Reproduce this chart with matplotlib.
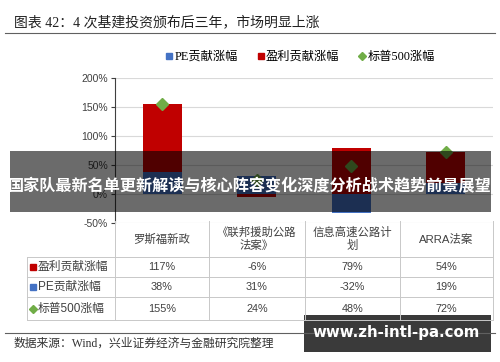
import matplotlib.pyplot as plt
from matplotlib.lines import Line2D
from matplotlib.patches import Rectangle

plt.rcParams['font.family'] = ['Liberation Sans', 'Noto Sans CJK SC']

# 数据
categories = ['罗斯福新政', '《联邦援助公路\n法案》', '信息高速公路计\n划', 'ARRA法案']
earn = [117, -6, 79, 54]     # 盈利贡献涨幅
pe = [38, 31, -32, 19]       # PE贡献涨幅
spx = [155, 24, 48, 72]      # 标普500涨幅
yticks = [-50, 0, 50, 100, 150, 200]

blue = '#4472C4'
red = '#C00000'
green = '#70AD47'
serif = ['Liberation Serif', 'Noto Sans CJK SC']

W, H = 500, 362
fig = plt.figure(figsize=(5, 3.62), dpi=100)

def fx(x):
    return x / W

def fy(y):
    return 1 - y / H

# 主图
ax = fig.add_axes([fx(115), fy(223), fx(493) - fx(115), fy(78) - fy(223)])
x = range(len(categories))
pos_base = [0] * 4
neg_base = [0] * 4
for vals, c in [(pe, blue), (earn, red)]:
    bottoms = []
    for i, v in enumerate(vals):
        if v >= 0:
            bottoms.append(pos_base[i])
            pos_base[i] += v
        else:
            bottoms.append(neg_base[i])
            neg_base[i] += v
    ax.bar(x, vals, 0.41, bottom=bottoms, color=c, zorder=2)
ax.plot(x, spx, linestyle='none', marker='D', markersize=6, color=green, zorder=3)
ax.set_xlim(-0.5, 3.5)
ax.set_ylim(-50, 200)
ax.set_yticks(yticks)
ax.set_yticklabels([f'{t}%' for t in yticks], fontsize=7.5, color='#404040')
ax.set_xticks([])
ax.grid(axis='y', color='#d9d9d9', linewidth=0.8, zorder=0)
for s in ['top', 'right', 'bottom']:
    ax.spines[s].set_visible(False)
ax.spines['left'].set_color('#404040')
ax.tick_params(axis='y', length=3, color='#404040', pad=2)

# 图例
handles = [Line2D([], [], ls='none', marker='s', markersize=4, color=blue),
           Line2D([], [], ls='none', marker='s', markersize=4, color=red),
           Line2D([], [], ls='none', marker='D', markersize=4, color=green)]
fig.legend(handles, ['PE贡献涨幅', '盈利贡献涨幅', '标普500涨幅'], loc='center',
           bbox_to_anchor=(fx(300), fy(57)), ncol=3, frameon=False,
           prop={'family': serif, 'size': 8.8}, handletextpad=0.1,
           columnspacing=1.5, handlelength=0.7)

# 覆盖层（标题、表格、水印）
ov = fig.add_axes([0, 0, 1, 1])
ov.set_xlim(0, W)
ov.set_ylim(H, 0)
ov.axis('off')

ov.text(14, 22, '图表 42：4 次基建投资颁布后三年，市场明显上涨', fontsize=10,
        family=serif, va='center', color='#222222')
ov.plot([5, 495], [33, 33], color='#606060', lw=0.8)

# 表格
cols = [115, 209, 305, 400, 493]
rows = [257, 277, 297, 320]
gc = '#c8c8c8'
for xc in cols:
    ov.plot([xc, xc], [221, 320], color=gc, lw=0.7)
ov.plot([27, 27], [257, 320], color=gc, lw=0.7)
for yr in rows:
    ov.plot([27, 493], [yr, yr], color=gc, lw=0.7)
for i, cat in enumerate(categories):
    ov.text((cols[i] + cols[i + 1]) / 2, 239, cat, ha='center', va='center',
            fontsize=8.2, color='#404040', linespacing=1.25)
row_data = [('盈利贡献涨幅', red, 's', earn),
            ('PE贡献涨幅', blue, 's', pe),
            ('标普500涨幅', green, 'D', spx)]
for r, (lab, c, m, vals) in enumerate(row_data):
    yc = (rows[r] + rows[r + 1]) / 2
    ov.plot([33], [yc], marker=m, markersize=3.8, color=c, ls='none')
    ov.text(38, yc, lab, va='center', fontsize=8.5, color='#404040')
    for i, v in enumerate(vals):
        ov.text((cols[i] + cols[i + 1]) / 2, yc, f'{v}%', ha='center', va='center',
                fontsize=7.8, color='#404040')

ov.plot([5, 495], [333, 333], color='#606060', lw=0.8)
ov.text(14, 344, '数据来源：Wind，兴业证券经济与金融研究院整理', fontsize=8.5,
        family=serif, va='center', color='#333333')

# 水印横幅
ov.add_patch(Rectangle((10, 151), 481, 61, facecolor='black', alpha=0.58, lw=0))
ov.text(250, 186, '国家队最新名单更新解读与核心阵容变化深度分析战术趋势前景展望',
        ha='center', va='center', fontsize=11.6, fontweight='bold', color='white',
        family=['Noto Sans CJK SC'])
ov.add_patch(Rectangle((304, 315), 187, 37, facecolor='#3a3a3a', lw=0))
ov.text(396, 333, 'www.zh-intl-pa.com', ha='center', va='center', fontsize=10.8,
        fontweight='bold', color='white', family=['DejaVu Sans'])

fig.savefig('out.png', dpi=100)
